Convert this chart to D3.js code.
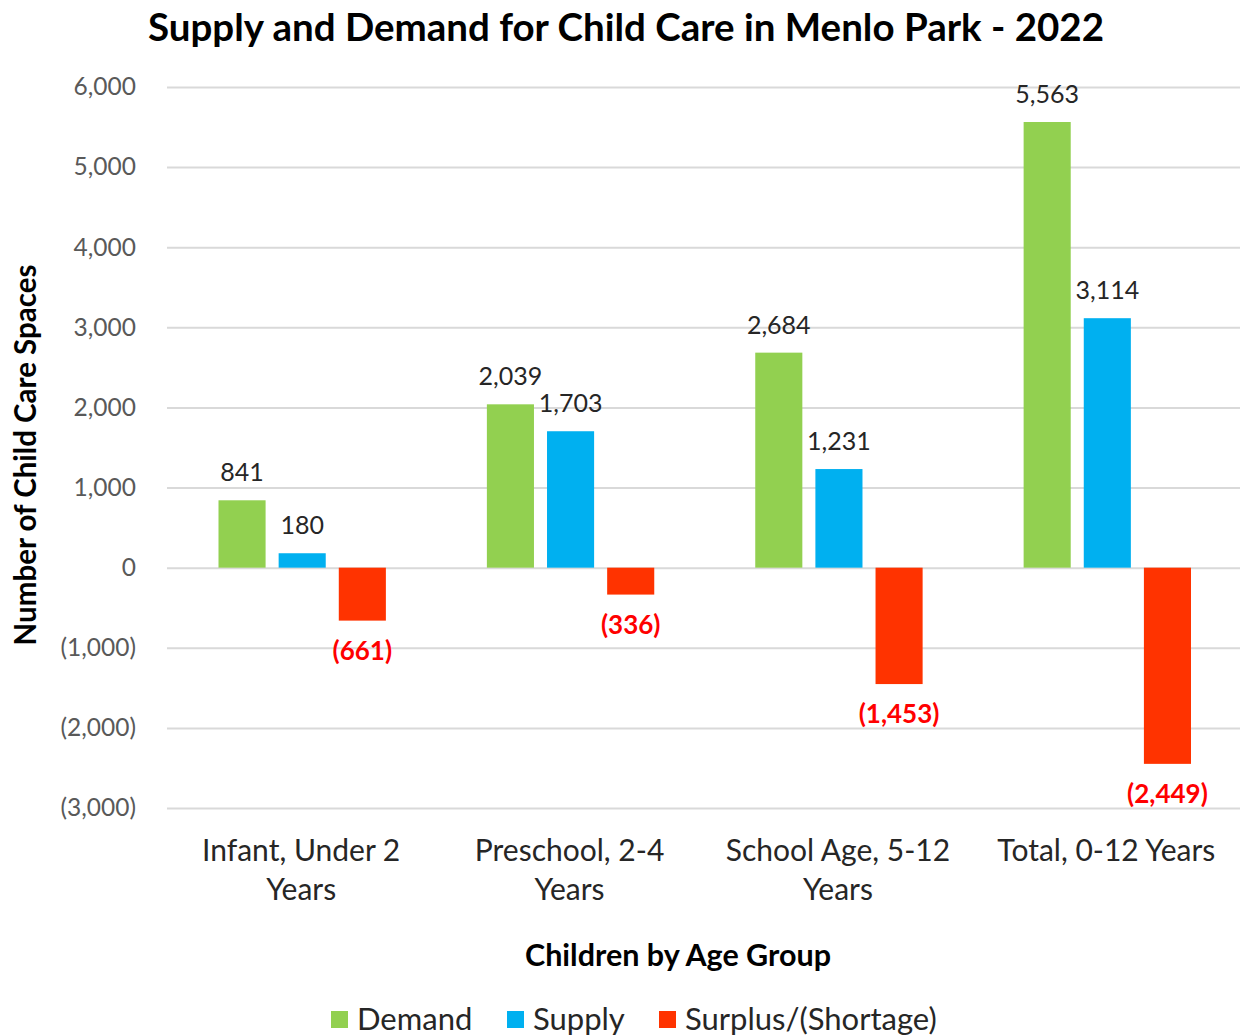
<!DOCTYPE html>
<html>
<head>
<meta charset="utf-8">
<script src="https://cdn.jsdelivr.net/npm/d3@7"></script>
<style>
  body { margin: 0; background: #fff; }
  text { font-family: Lato, "Open Sans", sans-serif; }
</style>
</head>
<body>
<div id="chart"></div>
<script>
// Data
let categories = [["Infant, Under 2", "Years"], ["Preschool, 2-4", "Years"], ["School Age, 5-12", "Years"], ["Total, 0-12 Years"]];
let seriesNames = ["Demand", "Supply", "Surplus/(Shortage)"];
let demand = [841, 2039, 2684, 5563];
let supply = [180, 1703, 1231, 3114];
let shortage = [-661, -336, -1453, -2449];
let yTicks = [-3000, -2000, -1000, 0, 1000, 2000, 3000, 4000, 5000, 6000];
let colors = ["#92D050", "#00B0F0", "#FF3300"];

let fullWidth = 1240, fullHeight = 1036;
let plotLeft = 167, plotRight = 1240.5;

let svg = d3.select("#chart")
    .append("svg")
    .attr("width", fullWidth)
    .attr("height", fullHeight);

// Tiêu đề
svg.append("text")
    .attr("x", 626)
    .attr("y", 41)
    .attr("text-anchor", "middle")
    .style("font-size", "38.5px")
    .style("font-weight", "bold")
    .style("fill", "#000")
    .text("Supply and Demand for Child Care in Menlo Park - 2022");

let catKeys = categories.map(c => c.join(" "));

let x0 = d3.scaleBand()
    .domain(catKeys)
    .range([plotLeft, plotRight]);

let x1 = d3.scaleBand()
    .domain(seriesNames)
    .range([51.5, x0.bandwidth() - 49.5])
    .paddingInner(0.217);

let y = d3.scaleLinear()
    .domain([-3000, 6000])
    .range([808, 87]);

let fmt = d3.format(",.0f");
let fmtNeg = d => d < 0 ? `(${fmt(-d)})` : fmt(d);

// Đường lưới
svg.append("g")
    .attr("transform", `translate(${plotLeft},0)`)
    .call(d3.axisLeft(y).tickValues(yTicks).tickSize(-(fullWidth - plotLeft)).tickFormat(""))
    .call(g => g.select(".domain").remove())
    .selectAll("line")
    .style("stroke", "#D9D9D9")
    .style("stroke-width", 2);

// Trục Y
svg.append("g")
    .attr("transform", `translate(${plotLeft},0)`)
    .call(d3.axisLeft(y).tickValues(yTicks).tickSize(0).tickPadding(31).tickFormat(fmtNeg))
    .call(g => g.select(".domain").remove())
    .selectAll("text")
    .style("font-family", "Lato, sans-serif")
    .style("font-size", "24.5px")
    .style("fill", "#595959");

// Build rows for the bars
let rows = [];
catKeys.forEach((c, i) => {
    [demand[i], supply[i], shortage[i]].forEach((v, j) => {
        rows.push({cat: c, series: seriesNames[j], value: v, color: colors[j]});
    });
});

svg.selectAll(".bar")
    .data(rows)
    .enter()
    .append("rect")
    .attr("class", "bar")
    .attr("x", d => x0(d.cat) + x1(d.series))
    .attr("y", d => y(Math.max(0, d.value)))
    .attr("width", x1.bandwidth())
    .attr("height", d => Math.abs(y(d.value) - y(0)))
    .attr("fill", d => d.color);

// Nhãn giá trị
svg.selectAll(".label")
    .data(rows)
    .enter()
    .append("text")
    .attr("class", "label")
    .attr("x", d => x0(d.cat) + x1(d.series) + x1.bandwidth() / 2)
    .attr("y", d => d.value >= 0 ? y(d.value) - 19 : y(d.value) + 39)
    .attr("text-anchor", "middle")
    .style("font-size", d => d.value < 0 ? "26px" : "25px")
    .style("font-weight", d => d.value < 0 ? "bold" : "normal")
    .style("fill", d => d.value < 0 ? "#FF0000" : "#262626")
    .text(d => fmtNeg(d.value));

// Nhãn trục X (hai dòng)
let catLabels = svg.selectAll(".cat")
    .data(categories)
    .enter()
    .append("text")
    .attr("class", "cat")
    .attr("x", (d, i) => x0(catKeys[i]) + x0.bandwidth() / 2)
    .attr("y", 861)
    .attr("text-anchor", "middle")
    .style("font-size", "30px")
    .style("fill", "#262626");

catLabels.selectAll("tspan")
    .data(d => d)
    .enter()
    .append("tspan")
    .attr("x", function() { return d3.select(this.parentNode).attr("x"); })
    .attr("dy", (d, i) => i === 0 ? 0 : 39)
    .text(d => d);

// Tiêu đề trục
svg.append("text")
    .attr("x", 678)
    .attr("y", 966)
    .attr("text-anchor", "middle")
    .style("font-size", "30.5px")
    .style("font-weight", "bold")
    .style("fill", "#000")
    .text("Children by Age Group");

svg.append("text")
    .attr("transform", "translate(36,455) rotate(-90)")
    .attr("text-anchor", "middle")
    .style("font-size", "29.5px")
    .style("font-weight", "bold")
    .style("fill", "#000")
    .text("Number of Child Care Spaces");

// Chú thích
let legendX = [331, 507, 659];
let legend = svg.selectAll(".legend")
    .data(seriesNames)
    .enter()
    .append("g")
    .attr("class", "legend")
    .attr("transform", (d, i) => `translate(${legendX[i]},1011)`);

legend.append("rect")
    .attr("width", 17)
    .attr("height", 17)
    .attr("fill", (d, i) => colors[i]);

legend.append("text")
    .attr("x", 26)
    .attr("y", 19)
    .style("font-size", "31px")
    .style("fill", "#262626")
    .text(d => d);
</script>
</body>
</html>
